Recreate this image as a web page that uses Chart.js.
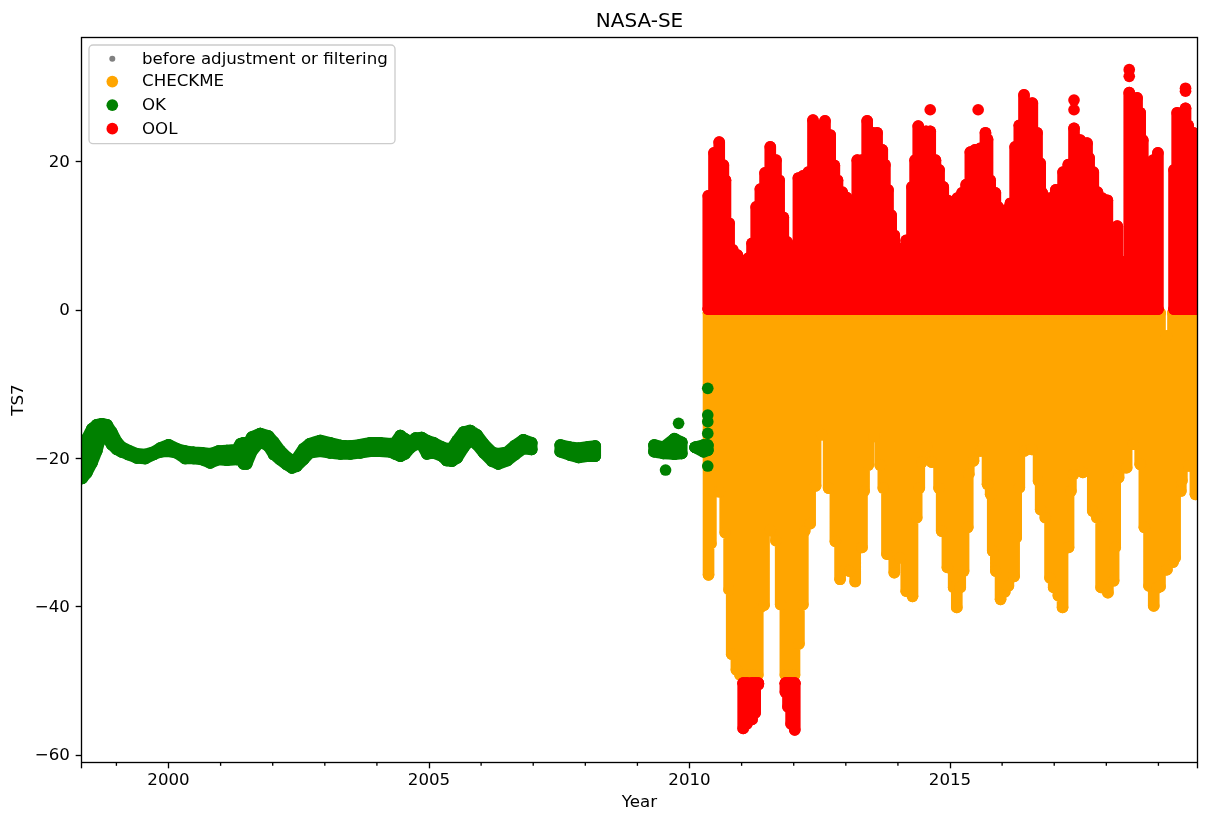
<!DOCTYPE html>
<html>
<head>
<meta charset="utf-8">
<title>NASA-SE</title>
<script src="https://cdn.jsdelivr.net/npm/chart.js@4"></script>
<style>html,body{margin:0;padding:0;background:#fff}canvas{display:block}</style>
</head>
<body>
<canvas id="c" width="1208" height="822"></canvas>
<script>
const chartTitle = 'NASA-SE';
const xTitle = 'Year';
const yTitle = 'TS7';
const seriesLabels = ['before adjustment or filtering', 'CHECKME', 'OK', 'OOL'];
const seriesColors = ['#808080', '#ffa500', '#008000', '#ff0000'];
const majorYears = [2000, 2005, 2010, 2015];
const minorYears = [1999, 2001, 2002, 2003, 2004, 2006, 2007, 2008, 2009, 2011, 2012, 2013, 2014, 2016, 2017, 2018, 2019];
const yTicks = [20, 0, -20, -40, -60];
const xMin = 1998.33, xMax = 2019.75, yMin = -61.0, yMax = 36.74;

// OK: upper and lower edge of the band, null row = data gap
const okYears = [1998.34,1998.43,1998.53,1998.62,1998.72,1998.82,1998.91,1999.01,1999.10,1999.23,1999.39,1999.55,1999.71,1999.84,2000.0,2000.16,2000.32,2000.48,2000.64,2000.80,2000.96,2001.12,2001.31,2001.38,2001.44,2001.50,2001.60,2001.76,2001.92,2002.02,2002.14,2002.27,2002.37,2002.46,2002.59,2002.71,2002.91,2003.10,2003.30,2003.49,2003.68,2003.87,2004.06,2004.26,2004.35,2004.45,2004.54,2004.64,2004.74,2004.86,2004.96,2005.09,2005.25,2005.34,2005.44,2005.54,2005.66,2005.79,2005.92,2006.05,2006.21,2006.33,2006.5,2006.65,2006.81,2006.97,null,2007.52,2007.71,2007.87,2008.06,2008.19,null,2009.32,2009.50,2009.71,2009.85,null,2010.11,2010.27,2010.35];
const okHigh = [-20.74,-17.37,-16.02,-15.48,-15.34,-15.48,-16.47,-17.8,-18.49,-18.94,-19.39,-19.48,-19.17,-18.62,-18.17,-18.71,-19.03,-19.17,-19.25,-19.39,-19.03,-18.94,-18.85,-18.04,-17.91,-18.26,-17.14,-16.65,-17.0,-17.8,-18.94,-19.84,-20.29,-20.06,-18.71,-18.04,-17.59,-17.91,-18.26,-18.35,-18.17,-17.91,-17.91,-18.04,-17.91,-16.92,-17.37,-17.8,-17.28,-17.2,-17.59,-17.91,-18.49,-18.71,-18.62,-17.59,-16.47,-16.24,-16.83,-18.04,-19.17,-19.39,-19.17,-18.26,-17.5,-17.91,null,-18.2,-18.5,-18.65,-18.43,-18.34,null,-18.2,-18.52,-17.35,-17.84,null,-18.52,-18.2,-18.2];
const okLow = [-22.71,-21.95,-20.6,-19.03,-16.56,-17.23,-18.13,-18.8,-19.12,-19.48,-19.93,-20.02,-19.48,-19.12,-19.03,-19.25,-20.02,-20.02,-20.15,-20.6,-20.15,-20.24,-20.15,-20.15,-20.74,-20.74,-19.03,-17.68,-18.35,-19.48,-20.15,-20.83,-21.28,-21.05,-20.15,-19.25,-19.03,-19.25,-19.39,-19.39,-19.25,-19.03,-19.03,-19.12,-19.39,-19.7,-19.39,-18.58,-18.13,-18.13,-19.39,-19.25,-19.7,-20.29,-20.38,-19.93,-18.58,-17.46,-18.13,-19.25,-20.38,-20.74,-20.29,-19.48,-18.67,-18.8,null,-19.1,-19.55,-19.87,-19.69,-19.69,null,-19.1,-19.33,-19.42,-19.33,null,-18.52,-19.1,-18.9];
const okLoneYears = [2009.79,2009.54,2010.35,2010.35,2010.35,2010.35,2010.35];
const okLoneValues = [-15.28,-21.57,-10.56,-14.16,-15.06,-16.63,-21.03];

// CHECKME: lower envelope below its top edge
const checkmeTop = -0.4;
const checkmeYears = [2010.365,2010.41,2010.46,2010.57,2010.685,2010.76,2010.81,2010.9,2010.97,2011.06,2011.15,2011.23,2011.31,2011.36,2011.43,2011.55,2011.66,2011.75,2011.84,2011.93,2012.015,2012.1,2012.175,2012.21,2012.315,2012.42,2012.54,2012.67,2012.8,2012.89,2012.99,2013.07,2013.18,2013.31,2013.35,2013.43,2013.545,2013.66,2013.72,2013.79,2013.93,2014.04,2014.16,2014.28,2014.36,2014.41,2014.46,2014.555,2014.65,2014.79,2014.84,2014.95,2015.07,2015.13,2015.196,2015.26,2015.34,2015.36,2015.45,2015.58,2015.72,2015.78,2015.82,2015.88,2015.97,2016.05,2016.12,2016.23,2016.27,2016.33,2016.43,2016.57,2016.7,2016.74,2016.83,2016.92,2016.99,2017.08,2017.16,2017.275,2017.32,2017.37,2017.55,2017.74,2017.82,2017.9,2018.03,2018.14,2018.17,2018.235,2018.39,2018.52,2018.65,2018.73,2018.82,2018.91,2018.97,2019.03,null,2019.28,2019.32,2019.43,2019.45,2019.58,2019.71,2019.76];
const checkmeLow = [-35.7,-31.5,-24.5,-24.5,-30,-37.7,-46.4,-48.5,-49.2,-49.2,-49.2,-49.2,-49.2,-40.1,-39.8,-29.7,-31.1,-39.7,-49.2,-49.2,-49.2,-45,-39.7,-29.8,-28.8,-23.7,-16.8,-24,-31.2,-36.3,-35,-35.2,-36.6,-32,-24.4,-20.9,-17.05,-20.9,-24,-32.9,-35.4,-33.4,-37.9,-38.6,-28,-24,-20.5,-18.4,-20.5,-24,-29.8,-34.7,-37.4,-40.1,-37.4,-35.2,-29.3,-22.15,-20.35,-19,-23.5,-24.85,-32.5,-35.2,-39,-38,-37.2,-35.9,-30.7,-23.95,-19,-18.8,-23.05,-26.9,-28,-36.1,-37.4,-38.5,-40.1,-32,-24.4,-22.15,-21.9,-27.1,-28,-37.4,-38.1,-36.5,-32,-22.6,-21.25,-18.1,-20.8,-29.3,-37.2,-39.9,-37.5,-37.3,null,-34,-33.4,-24.4,-23,-21,-24.85,-24.85];
const checkmeSlitYears = [2019.16];
const checkmeSlitTop = [-3.5];
const checkmeSlitLow = [-35];

// OOL: upper envelope above its base
const oolBase = 0.13;
const oolYears = [2010.36,2010.47,2010.57,2010.65,2010.69,2010.76,2010.83,2010.92,2011.01,2011.13,2011.2,2011.28,2011.36,2011.45,2011.55,2011.66,2011.72,2011.8,2011.87,2011.95,2012.09,2012.18,2012.28,2012.37,2012.49,2012.6,2012.7,2012.78,2012.84,2012.93,2013.01,2013.12,2013.22,2013.31,2013.41,2013.52,2013.6,2013.7,2013.75,2013.81,2013.87,2013.93,2013.99,2014.06,2014.16,2014.27,2014.33,2014.39,2014.49,2014.54,2014.62,2014.72,2014.79,2014.87,2014.95,2015.04,2015.14,2015.23,2015.31,2015.39,2015.48,2015.58,2015.68,2015.72,2015.77,2015.87,2015.92,2016.0,2016.08,2016.16,2016.25,2016.33,2016.42,2016.5,2016.58,2016.67,2016.73,2016.77,2016.81,2016.92,2017.03,2017.17,2017.27,2017.38,2017.5,2017.63,2017.67,2017.75,2017.83,2017.92,2018.02,2018.07,2018.21,2018.33,2018.44,2018.53,2018.59,2018.65,2018.7,2018.8,2018.9,2018.99,null,2019.3,2019.36,2019.44,2019.52,2019.57,2019.67,2019.76];
const oolHigh = [15.4,21.2,22.65,19.55,17.5,11.7,8.1,7.4,5.4,7.0,9.0,13.9,16.3,18.5,22.0,20.2,17.5,12.5,9.2,5.0,17.8,18.1,18.6,25.6,24.8,25.5,23.6,19.5,17.5,15.9,15.2,14.8,20.2,20.2,25.5,23.9,23.9,21.6,19.6,16.2,12.8,10.1,8.4,3.4,9.4,16.6,20.2,24.8,22.5,24.1,24.1,20.2,18.9,16.6,14.8,14.6,15.1,15.8,16.9,21.3,21.6,21.8,23.9,23,17.5,15.8,13.9,13.1,13.5,14.4,22,24.9,29,26.3,27.9,23.9,19.8,15.8,13.5,15.1,16.2,18.6,19.6,24.5,22.9,22.5,20.5,18.6,15.9,15.1,14.8,5.8,11.3,6.5,29.3,28.3,28.6,26.6,22.9,19.6,20.2,21.2,null,18.9,26.6,24.9,27.2,24.9,23.9,22.9];
const oolLoneYears = [2014.62,2015.54,2017.38,2017.38,2018.44,2018.44,2019.52,2019.52];
const oolLoneValues = [27,27,28.3,27,32.4,31.5,29.9,29.5];
const oolColdTop = -50.3;
const oolColdYears = [2011.03,2011.1,2011.2,2011.26,2011.32,null,2011.84,2011.89,2011.95,2012.02];
const oolColdLow = [-56.4,-55.8,-55.2,-54.3,-50.5,null,-51.5,-53.5,-55.8,-56.6];

const GAP = x => ({x, y: null});
// Splits a table at its null rows into runs of row indexes.
function runs(years) {
  const out = [[]];
  years.forEach((x, i) => { if (x === null) out.push([]); else out[out.length - 1].push(i); });
  return out.filter(r => r.length);
}
// Solid band: one pass along the upper edge, one pass back along the lower edge with a rung at every row.
function band(years, high, low) {
  const out = [];
  runs(years).forEach(r => {
    r.forEach(i => out.push({x: years[i], y: high[i]}));
    r.slice().reverse().forEach(i => out.push({x: years[i], y: low[i]}, {x: years[i], y: high[i]}, {x: years[i], y: low[i]}));
    out.push(GAP(years[r[0]]));
  });
  return out;
}
// A vertical column of samples per row, all hanging off one shared edge.
function comb(years, ends, rail) {
  const out = [];
  runs(years).forEach(r => {
    r.forEach(i => out.push({x: years[i], y: rail}, {x: years[i], y: ends[i]}, {x: years[i], y: rail}));
    out.push(GAP(years[r[0]]));
  });
  return out;
}
function lone(years, values) {
  const out = [];
  years.forEach((x, i) => out.push(GAP(x), {x, y: values[i]}, GAP(x)));
  return out;
}

const checkmeData = comb(checkmeYears, checkmeLow, checkmeTop)
  .concat(band(checkmeSlitYears, checkmeSlitTop, checkmeSlitLow));
const okData = band(okYears, okHigh, okLow).concat(lone(okLoneYears, okLoneValues));
const oolData = comb(oolYears, oolHigh, oolBase)
  .concat(lone(oolLoneYears, oolLoneValues), comb(oolColdYears, oolColdLow, oolColdTop));

function series(i, data, order) {
  return {
    label: seriesLabels[i], data, order,
    showLine: true, spanGaps: false, tension: 1e-6,
    borderColor: seriesColors[i], backgroundColor: seriesColors[i],
    borderWidth: 11.67, borderCapStyle: 'round', borderJoinStyle: 'round',
    pointRadius: 5.83, pointBorderWidth: 0, pointBackgroundColor: seriesColors[i],
    clip: 0
  };
}

const FONT = '"DejaVu Sans", sans-serif';
const framePlugin = {
  id: 'frame',
  afterDraw(chart) {
    const {ctx, chartArea: a, scales: {x}} = chart;
    ctx.save();
    ctx.strokeStyle = '#000'; ctx.lineWidth = 1.33;
    ctx.strokeRect(a.left, a.top, a.right - a.left, a.bottom - a.top);
    minorYears.forEach(v => {
      const px = x.getPixelForValue(v);
      ctx.beginPath(); ctx.moveTo(px, a.bottom); ctx.lineTo(px, a.bottom + 3.33); ctx.stroke();
    });
    // legend box
    const bx = 89, by = 45, bw = 306, bh = 98.7, r = 4;
    ctx.beginPath();
    ctx.roundRect(bx, by, bw, bh, r);
    ctx.fillStyle = 'rgba(255,255,255,0.8)'; ctx.fill();
    ctx.strokeStyle = '#cccccc'; ctx.lineWidth = 1.33; ctx.stroke();
    const rows = [58.7, 81.6, 105.2, 128.7];
    const radii = [3, 5.83, 5.83, 5.83];
    ctx.font = '16.67px ' + FONT; ctx.textBaseline = 'middle'; ctx.textAlign = 'left';
    seriesLabels.forEach((t, i) => {
      ctx.beginPath(); ctx.arc(112.3, rows[i], radii[i], 0, Math.PI * 2);
      ctx.fillStyle = seriesColors[i]; ctx.fill();
      ctx.fillStyle = '#000'; ctx.fillText(t, 142, rows[i] + 0.5);
    });
    ctx.restore();
  }
};

new Chart(document.getElementById('c'), {
  type: 'scatter',
  data: {datasets: [series(0, [], 4), series(1, checkmeData, 3), series(2, okData, 2), series(3, oolData, 1)]},
  plugins: [framePlugin],
  options: {
    responsive: false, animation: false, events: [],
    layout: {padding: {left: 0, right: 10.5, top: 0, bottom: 0}},
    plugins: {
      legend: {display: false}, tooltip: {enabled: false},
      title: {display: true, fullSize: false, text: chartTitle, color: '#000', font: {family: FONT, size: 20, weight: 'normal'}, padding: {top: 9.5, bottom: 4}}
    },
    scales: {
      x: {
        type: 'linear', min: xMin, max: xMax,
        afterBuildTicks(s) { s.ticks = [xMin, ...majorYears, xMax].map(value => ({value})); },
        afterFit(s) { s.height = 59.5; },
        grid: {display: true, drawOnChartArea: false, drawTicks: true, tickLength: 5.83, tickColor: '#000', tickWidth: 1.33},
        border: {display: false},
        ticks: {autoSkip: false, maxRotation: 0, color: '#000', font: {family: FONT, size: 16.67}, padding: 2,
          callback: v => majorYears.includes(v) ? String(v) : ''},
        title: {display: true, text: xTitle, color: '#000', font: {family: FONT, size: 16.67}, padding: {top: 2, bottom: 9}}
      },
      y: {
        type: 'linear', min: yMin, max: yMax,
        afterBuildTicks(s) { s.ticks = yTicks.map(value => ({value})); },
        afterFit(s) { s.width = 81.5; },
        grid: {display: true, drawOnChartArea: false, drawTicks: true, tickLength: 5.83, tickColor: '#000', tickWidth: 1.33},
        border: {display: false},
        ticks: {autoSkip: false, color: '#000', font: {family: FONT, size: 16.67}, padding: 5.8, labelOffset: 1,
          callback: v => String(v).replace('-', '\u2212')},
        title: {display: true, text: yTitle, color: '#000', font: {family: FONT, size: 16.67}, padding: {top: 9, bottom: 4}}
      }
    }
  }
});
</script>
</body>
</html>
